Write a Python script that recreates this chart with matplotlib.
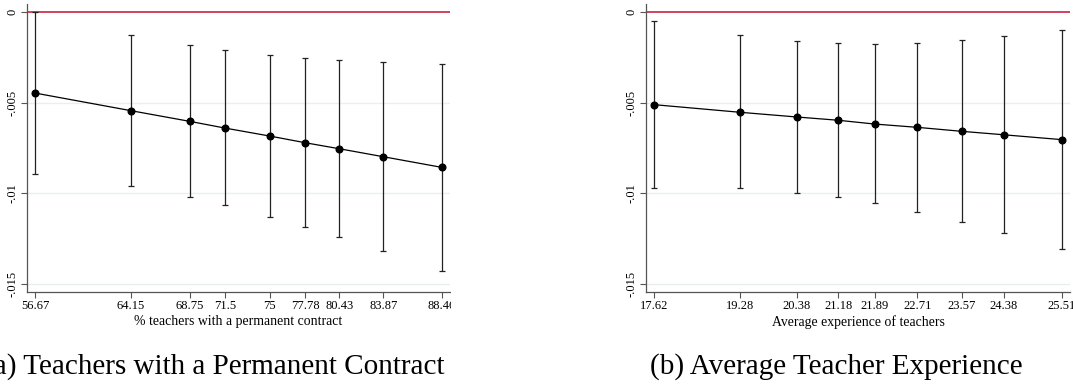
import numpy as np
import matplotlib.pyplot as plt
from matplotlib.patches import Rectangle

plt.rcParams['font.family'] = ['Liberation Serif', 'DejaVu Serif']

# Panel (a): % teachers with a permanent contract
perm_x = [56.67, 64.15, 68.75, 71.5, 75, 77.78, 80.43, 83.87, 88.46]
perm_ticklabels = ["56.67", "64.15", "68.75", "71.5", "75", "77.78", "80.43", "83.87", "88.46"]
perm_est = [-0.00447, -0.00544, -0.00603, -0.00640, -0.00684, -0.00721, -0.00754, -0.00798, -0.00857]
perm_hi = [-0.00002, -0.00125, -0.00182, -0.00210, -0.00235, -0.00254, -0.00266, -0.00277, -0.00285]
perm_lo = [-0.00892, -0.00961, -0.01022, -0.01066, -0.01129, -0.01186, -0.01243, -0.01318, -0.01428]

# Panel (b): average experience of teachers
exp_x = [17.62, 19.28, 20.38, 21.18, 21.89, 22.71, 23.57, 24.38, 25.51]
exp_ticklabels = ["17.62", "19.28", "20.38", "21.18", "21.89", "22.71", "23.57", "24.38", "25.51"]
exp_est = [-0.00511, -0.00553, -0.00579, -0.00597, -0.00618, -0.00636, -0.00658, -0.00677, -0.00704]
exp_hi = [-0.00048, -0.00129, -0.00162, -0.00173, -0.00175, -0.00169, -0.00154, -0.00134, -0.00101]
exp_lo = [-0.00972, -0.00972, -0.00996, -0.01022, -0.01055, -0.01103, -0.01158, -0.01217, -0.01309]

yticks = [0, -0.005, -0.01, -0.015]
ytick_labels = ["0", "-.005", "-.01", "-.015"]

W, H = 1073, 385
fig = plt.figure(figsize=(W / 100, H / 100), dpi=100)


def px_axes(left, right, top, bottom):
    return fig.add_axes([left / W, 1 - bottom / H, (right - left) / W, (bottom - top) / H])


def draw_panel(ax, x, est, lo, hi, ticklabels, xlim, xlabel):
    est = np.array(est)
    err = [est - np.array(lo), np.array(hi) - est]
    for yt in yticks[1:]:
        ax.axhline(yt, color="#e9efee", lw=1.0, zorder=0)
    ax.axhline(0, color="#c8102e", lw=1.1, zorder=1)
    ax.errorbar(x, est, yerr=err, fmt="none", ecolor="#222222", elinewidth=0.9,
                capsize=2.4, capthick=0.9, zorder=2)
    ax.plot(x, est, color="black", lw=0.9, marker="o", markersize=4.8, zorder=3)
    ax.set_xlim(*xlim)
    ax.set_ylim(-0.01544, 0.00044)
    ax.set_xticks(x)
    ax.set_xticklabels(ticklabels, fontsize=9)
    ax.set_yticks(yticks)
    ax.set_yticklabels(ytick_labels, fontsize=9, rotation=90, va="center")
    ax.set_xlabel(xlabel, fontsize=9.9, labelpad=2)
    for s in ["top", "right"]:
        ax.spines[s].set_visible(False)
    for s in ["left", "bottom"]:
        ax.spines[s].set_color("#555555")
        ax.spines[s].set_linewidth(0.9)
    ax.tick_params(axis="both", length=4, width=0.8, color="#555555", pad=2)


ax1 = px_axes(27, 450, 4, 292)
draw_panel(ax1, perm_x, perm_est, perm_lo, perm_hi, perm_ticklabels,
           (56.045, 89.085), "% teachers with a permanent contract")

ax2 = px_axes(646, 1070, 4, 292)
draw_panel(ax2, exp_x, exp_est, exp_lo, exp_hi, exp_ticklabels,
           (17.465, 25.665), "Average experience of teachers")

# crop panel (a) at its right edge, like the cut-out subfigure
fig.patches.append(Rectangle((451 / W, 1 - 330 / H), 165 / W, 330 / H,
                             transform=fig.transFigure, facecolor="white",
                             edgecolor="none", zorder=10))

fig.text(445 / W, 1 - 367 / H, "(a) Teachers with a Permanent Contract",
         ha="right", va="center", fontsize=21)
fig.text(836 / W, 1 - 367 / H, "(b) Average Teacher Experience",
         ha="center", va="center", fontsize=21)

fig.savefig("out.png", dpi=100)
